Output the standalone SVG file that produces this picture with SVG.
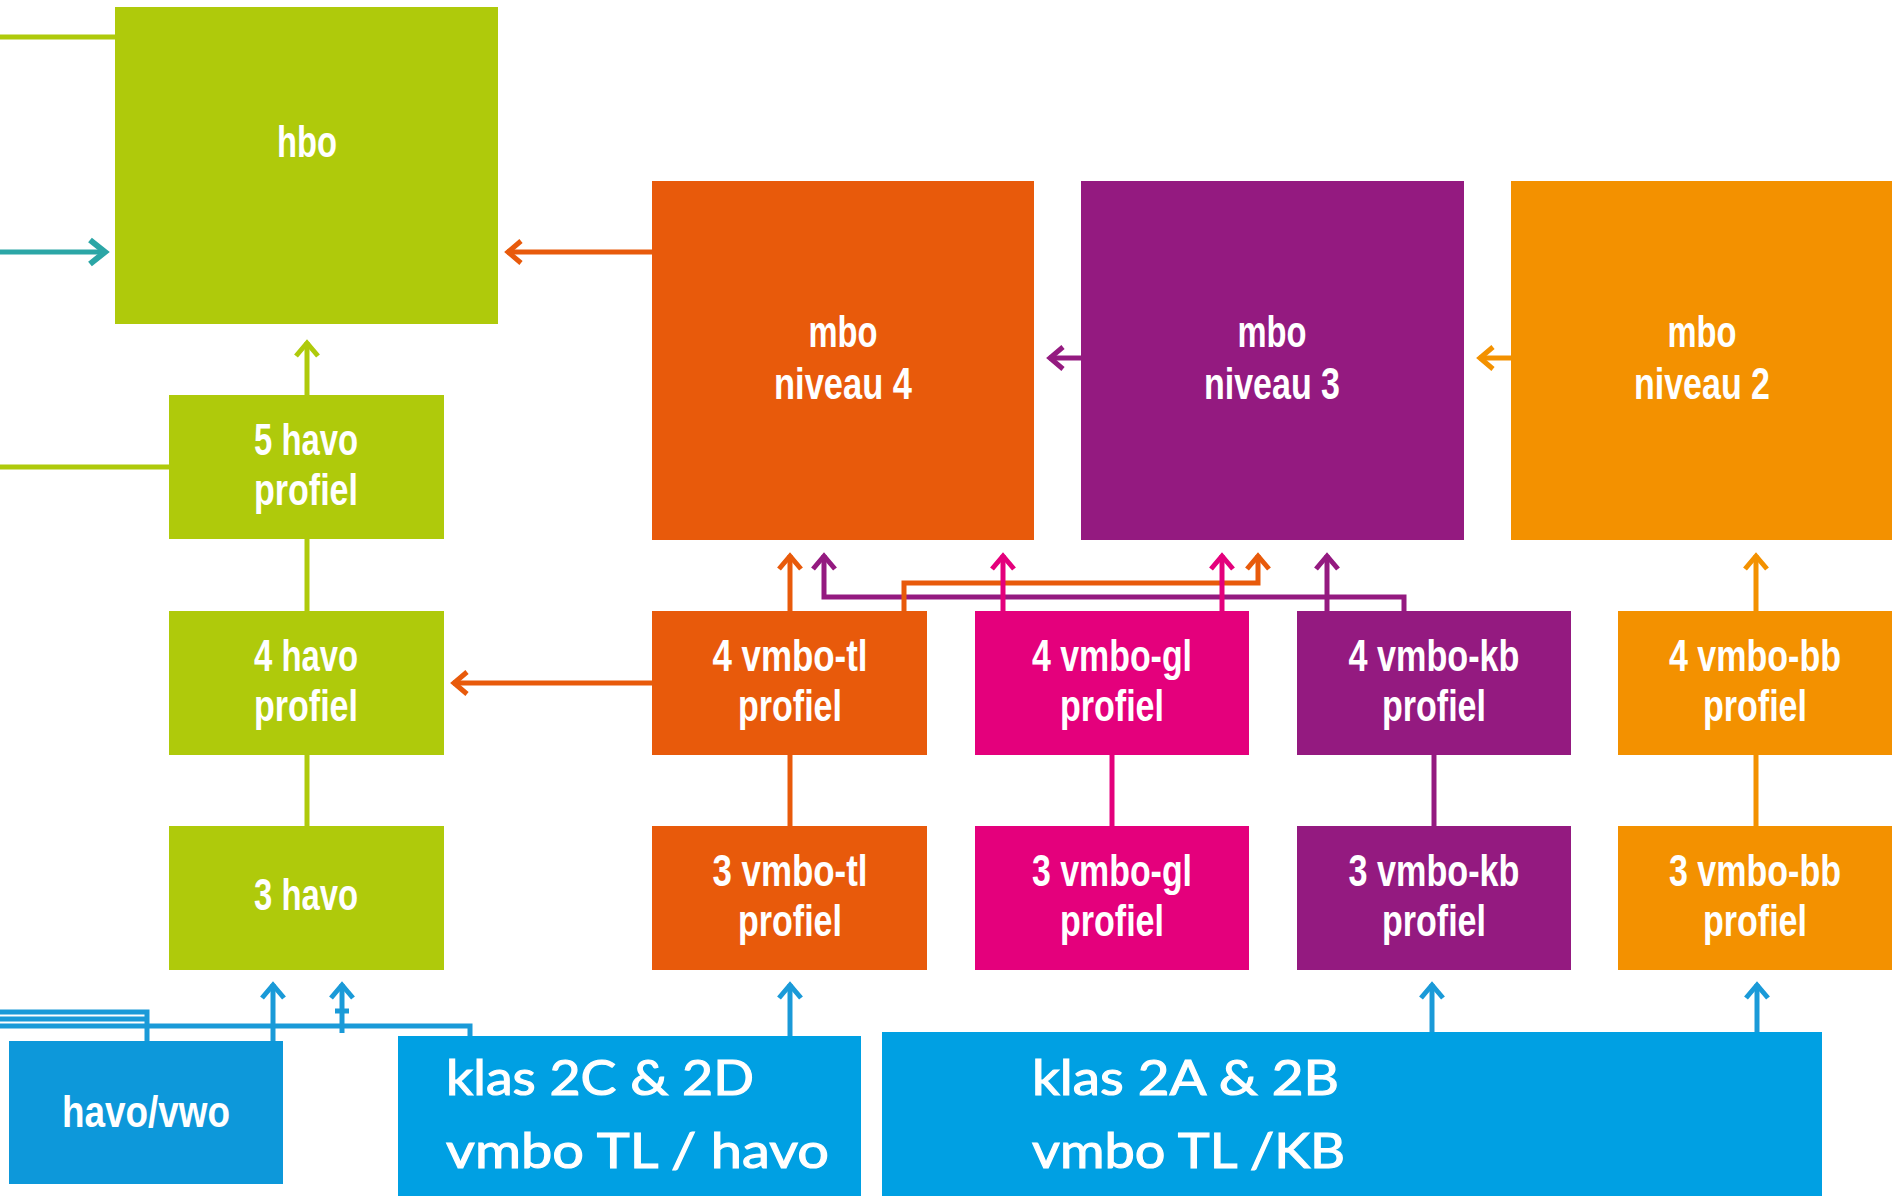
<svg xmlns="http://www.w3.org/2000/svg" width="1892" height="1196" viewBox="0 0 1892 1196">
<style>
.n{font-family:"Liberation Sans","DejaVu Sans",Arial,sans-serif;font-weight:bold;font-size:44px;fill:#ffffff;text-anchor:middle}
.k{font-family:Lato,"Liberation Sans",Arial,sans-serif;font-weight:normal;font-size:49px;fill:#ffffff;stroke:#ffffff;stroke-width:1.1}
.c{fill:none;stroke-width:5}
.g{stroke:#afca0b}.o{stroke:#e85a0b}.p{stroke:#941a80}.m{stroke:#e4007c}.y{stroke:#f39100}.b{stroke:#1a9ad8}.t{stroke:#2ba6a6}
</style>
<defs>
<marker id="ag" markerUnits="userSpaceOnUse" orient="auto" refX="0" refY="0" overflow="visible"><path d="M-14,-11 L-1,0 L-14,11" fill="none" stroke="#afca0b" stroke-width="5"/></marker>
<marker id="ao" markerUnits="userSpaceOnUse" orient="auto" refX="0" refY="0" overflow="visible"><path d="M-14,-11 L-1,0 L-14,11" fill="none" stroke="#e85a0b" stroke-width="5"/></marker>
<marker id="ap" markerUnits="userSpaceOnUse" orient="auto" refX="0" refY="0" overflow="visible"><path d="M-14,-11 L-1,0 L-14,11" fill="none" stroke="#941a80" stroke-width="5"/></marker>
<marker id="am" markerUnits="userSpaceOnUse" orient="auto" refX="0" refY="0" overflow="visible"><path d="M-14,-11 L-1,0 L-14,11" fill="none" stroke="#e4007c" stroke-width="5"/></marker>
<marker id="ay" markerUnits="userSpaceOnUse" orient="auto" refX="0" refY="0" overflow="visible"><path d="M-14,-11 L-1,0 L-14,11" fill="none" stroke="#f39100" stroke-width="5"/></marker>
<marker id="ab" markerUnits="userSpaceOnUse" orient="auto" refX="0" refY="0" overflow="visible"><path d="M-14,-11 L-1,0 L-14,11" fill="none" stroke="#1a9ad8" stroke-width="5"/></marker>
<marker id="at" markerUnits="userSpaceOnUse" orient="auto" refX="0" refY="0" overflow="visible"><path d="M-16,-12 L-1,0 L-16,12" fill="none" stroke="#2ba6a6" stroke-width="6"/></marker>
</defs>
<rect width="1892" height="1196" fill="#ffffff"/>

<g id="connectors">
<path class="c g" d="M0,37 H115"/>
<path class="c t" d="M0,252 H106" marker-end="url(#at)" stroke-width="6"/>
<path class="c o" d="M652,252 H507" marker-end="url(#ao)"/>
<path class="c g" d="M307,395 V342" marker-end="url(#ag)"/>
<path class="c g" d="M0,467 H169"/>
<path class="c g" d="M307,539 V611"/>
<path class="c g" d="M307,755 V826"/>
<path class="c o" d="M652,683 H453" marker-end="url(#ao)"/>
<path class="c p" d="M1081,358 H1049" marker-end="url(#ap)"/>
<path class="c y" d="M1511,358 H1479" marker-end="url(#ay)"/>
<path class="c p" d="M1404,611 V597 H824 V555" marker-end="url(#ap)"/>
<path class="c o" d="M790,611 V555" marker-end="url(#ao)"/>
<path class="c o" d="M904,611 V583 H1258 V555" marker-end="url(#ao)"/>
<path class="c m" d="M1003,611 V555" marker-end="url(#am)"/>
<path class="c m" d="M1222,611 V555" marker-end="url(#am)"/>
<path class="c p" d="M1327,611 V555" marker-end="url(#ap)"/>
<path class="c y" d="M1756,611 V555" marker-end="url(#ay)"/>
<path class="c o" d="M790,755 V826"/>
<path class="c m" d="M1112,755 V826"/>
<path class="c p" d="M1434,755 V826"/>
<path class="c y" d="M1756,755 V826"/>
<path class="c b" d="M790,1036 V984" marker-end="url(#ab)"/>
<path class="c b" d="M1432,1032 V984" marker-end="url(#ab)"/>
<path class="c b" d="M1757,1032 V984" marker-end="url(#ab)"/>
<path class="c b" d="M0,1012 H147 V1041"/>
<path class="c b" d="M0,1019 H147"/>
<path class="c b" d="M0,1026 H470 V1036"/>
<path class="c b" d="M273,1041 V984" marker-end="url(#ab)"/>
<path class="c b" d="M342,1033 V984" marker-end="url(#ab)"/>
<path class="c b" d="M335,1011 H349" stroke-width="4"/>
</g>

<g id="hbo"><rect x="115" y="7" width="383" height="317" fill="#afca0b"/><text class="n" x="307" y="157" textLength="60" lengthAdjust="spacingAndGlyphs">hbo</text></g>
<g id="mbo4"><rect x="652" y="181" width="382" height="359" fill="#e85a0b"/><text class="n" x="843" y="347" textLength="69" lengthAdjust="spacingAndGlyphs">mbo</text><text class="n" x="843" y="399" textLength="138" lengthAdjust="spacingAndGlyphs">niveau 4</text></g>
<g id="mbo3"><rect x="1081" y="181" width="383" height="359" fill="#941a80"/><text class="n" x="1272" y="347" textLength="69" lengthAdjust="spacingAndGlyphs">mbo</text><text class="n" x="1272" y="399" textLength="136" lengthAdjust="spacingAndGlyphs">niveau 3</text></g>
<g id="mbo2"><rect x="1511" y="181" width="381" height="359" fill="#f39100"/><text class="n" x="1702" y="347" textLength="69" lengthAdjust="spacingAndGlyphs">mbo</text><text class="n" x="1702" y="399" textLength="136" lengthAdjust="spacingAndGlyphs">niveau 2</text></g>

<g id="havo5"><rect x="169" y="395" width="275" height="144" fill="#afca0b"/><text class="n" x="306" y="455" textLength="104" lengthAdjust="spacingAndGlyphs">5 havo</text><text class="n" x="306" y="505" textLength="104" lengthAdjust="spacingAndGlyphs">profiel</text></g>
<g id="havo4"><rect x="169" y="611" width="275" height="144" fill="#afca0b"/><text class="n" x="306" y="671" textLength="104" lengthAdjust="spacingAndGlyphs">4 havo</text><text class="n" x="306" y="721" textLength="104" lengthAdjust="spacingAndGlyphs">profiel</text></g>
<g id="havo3"><rect x="169" y="826" width="275" height="144" fill="#afca0b"/><text class="n" x="306" y="910" textLength="104" lengthAdjust="spacingAndGlyphs">3 havo</text></g>

<g id="vmbo-tl4"><rect x="652" y="611" width="275" height="144" fill="#e85a0b"/><text class="n" x="790" y="671" textLength="155" lengthAdjust="spacingAndGlyphs">4 vmbo-tl</text><text class="n" x="790" y="721" textLength="104" lengthAdjust="spacingAndGlyphs">profiel</text></g>
<g id="vmbo-gl4"><rect x="975" y="611" width="274" height="144" fill="#e4007c"/><text class="n" x="1112" y="671" textLength="160" lengthAdjust="spacingAndGlyphs">4 vmbo-gl</text><text class="n" x="1112" y="721" textLength="104" lengthAdjust="spacingAndGlyphs">profiel</text></g>
<g id="vmbo-kb4"><rect x="1297" y="611" width="274" height="144" fill="#941a80"/><text class="n" x="1434" y="671" textLength="171" lengthAdjust="spacingAndGlyphs">4 vmbo-kb</text><text class="n" x="1434" y="721" textLength="104" lengthAdjust="spacingAndGlyphs">profiel</text></g>
<g id="vmbo-bb4"><rect x="1618" y="611" width="274" height="144" fill="#f39100"/><text class="n" x="1755" y="671" textLength="172" lengthAdjust="spacingAndGlyphs">4 vmbo-bb</text><text class="n" x="1755" y="721" textLength="104" lengthAdjust="spacingAndGlyphs">profiel</text></g>

<g id="vmbo-tl3"><rect x="652" y="826" width="275" height="144" fill="#e85a0b"/><text class="n" x="790" y="886" textLength="155" lengthAdjust="spacingAndGlyphs">3 vmbo-tl</text><text class="n" x="790" y="936" textLength="104" lengthAdjust="spacingAndGlyphs">profiel</text></g>
<g id="vmbo-gl3"><rect x="975" y="826" width="274" height="144" fill="#e4007c"/><text class="n" x="1112" y="886" textLength="160" lengthAdjust="spacingAndGlyphs">3 vmbo-gl</text><text class="n" x="1112" y="936" textLength="104" lengthAdjust="spacingAndGlyphs">profiel</text></g>
<g id="vmbo-kb3"><rect x="1297" y="826" width="274" height="144" fill="#941a80"/><text class="n" x="1434" y="886" textLength="171" lengthAdjust="spacingAndGlyphs">3 vmbo-kb</text><text class="n" x="1434" y="936" textLength="104" lengthAdjust="spacingAndGlyphs">profiel</text></g>
<g id="vmbo-bb3"><rect x="1618" y="826" width="274" height="144" fill="#f39100"/><text class="n" x="1755" y="886" textLength="172" lengthAdjust="spacingAndGlyphs">3 vmbo-bb</text><text class="n" x="1755" y="936" textLength="104" lengthAdjust="spacingAndGlyphs">profiel</text></g>

<g id="havo-vwo"><rect x="9" y="1041" width="274" height="143" fill="#0d98da"/><text class="n" x="146" y="1127" textLength="168" lengthAdjust="spacingAndGlyphs">havo/vwo</text></g>
<g id="klas2CD"><rect x="398" y="1036" width="463" height="160" fill="#00a0e3"/><text class="k" x="446" y="1095" textLength="308" lengthAdjust="spacingAndGlyphs">klas 2C &amp; 2D</text><text class="k" x="446" y="1168" textLength="383" lengthAdjust="spacingAndGlyphs">vmbo TL / havo</text></g>
<g id="klas2AB"><rect x="882" y="1032" width="940" height="164" fill="#00a0e3"/><text class="k" x="1032" y="1095" textLength="307" lengthAdjust="spacingAndGlyphs">klas 2A &amp; 2B</text><text class="k" x="1032" y="1168" textLength="313" lengthAdjust="spacingAndGlyphs">vmbo TL /KB</text></g>
</svg>
